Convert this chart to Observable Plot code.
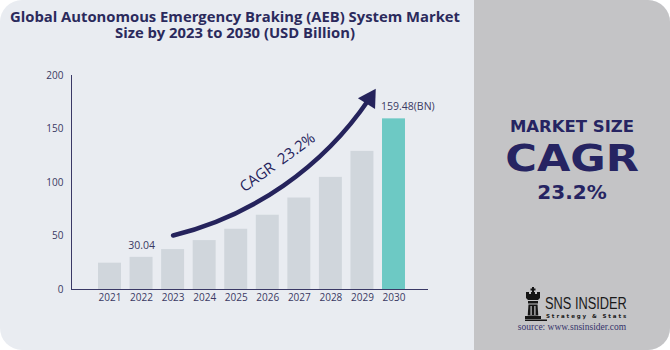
<!DOCTYPE html>
<html>
<head>
<meta charset="utf-8">
<script src="https://cdn.jsdelivr.net/npm/d3@7"></script>
<script src="https://cdn.jsdelivr.net/npm/@observablehq/plot@0.6"></script>
<style>
  html, body { margin: 0; padding: 0; background: #ffffff; }
  #wrap { position: relative; width: 670px; height: 350px; overflow: hidden; }
  #panel { position: absolute; left: 0; top: 0; width: 670px; height: 350px; border-radius: 22px; background: #e9ecf1; overflow: hidden; }
  #right { position: absolute; left: 474px; top: 0; width: 196px; height: 350px; background: #c4c4c6; }
  .tl { position: absolute; left: 0; width: 470px; text-align: center; font-family: "Open Sans", sans-serif; font-weight: 700; font-size: 14.8px; line-height: 15px; color: #2b2a5c; white-space: nowrap; }
  #t1 { top: 9px; }
  #t2 { top: 25px; }
  #chart { position: absolute; left: 0; top: 60px; }
  .rt { position: absolute; left: 474px; width: 196px; text-align: center; color: #262462; font-family: "DejaVu Sans", sans-serif; font-weight: 700; white-space: nowrap; }
  .rt span { display: inline-block; }
  #ms { top: 119px; font-size: 16.5px; line-height: 16px; }
  #cagr { top: 140px; font-size: 37.5px; line-height: 36px; }
  #cagr span { transform: scaleX(1.15); }
  #pct { top: 182px; font-size: 20px; line-height: 20px; }
  #logo { position: absolute; left: 520px; top: 284px; width: 130px; height: 40px; color: #1a1a1a; }
  #rook { position: absolute; left: 3px; top: 3px; }
  #sns { position: absolute; left: 25px; top: 11px; font-family: "Liberation Sans", sans-serif; font-size: 16px; line-height: 18px; transform: scaleX(0.8); transform-origin: 0 0; white-space: nowrap; }
  #ss { position: absolute; left: 26px; top: 29.4px; font-family: "DejaVu Sans", sans-serif; font-size: 5.5px; line-height: 6.4px; font-weight: 700; letter-spacing: 1.9px; white-space: nowrap; }
  #src { position: absolute; left: 474px; top: 322px; width: 196px; text-align: center; font-family: "Liberation Serif", serif; font-size: 9.5px; color: #34336a; }
</style>
</head>
<body>
<div id="wrap">
  <div id="panel"><div id="right"></div></div>
  <div class="tl" id="t1">Global Autonomous Emergency Braking (AEB) System Market</div>
  <div class="tl" id="t2">Size by 2023 to 2030 (USD Billion)</div>
  <div id="chart"></div>
  <div class="rt" id="ms"><span>MARKET SIZE</span></div>
  <div class="rt" id="cagr"><span>CAGR</span></div>
  <div class="rt" id="pct"><span>23.2%</span></div>
  <div id="logo">
    <svg id="rook" width="24" height="36" viewBox="0 0 24 36">
      <g fill="#151515">
        <rect x="9" y="0" width="2" height="5"/>
        <rect x="7.5" y="1.5" width="5" height="2"/>
        <path d="M3 5 h3 v2 h2 v-2 h4 v2 h2 v-2 h3 v6 l-2 2 h-10 l-2 -2z"/>
        <rect x="5" y="14" width="10" height="2.5"/>
        <path d="M5.5 17.5 h9 l0.8 11 h-10.6z"/>
        <rect x="2" y="29" width="16" height="3"/>
        <rect x="2" y="32.5" width="22" height="1.5"/>
      </g>
      <g fill="#c4c4c6">
        <rect x="7.5" y="19" width="1.2" height="9"/>
        <rect x="11.3" y="19" width="1.2" height="9"/>
      </g>
    </svg>
    <div id="sns">SNS INSIDER</div><div id="ss">Strategy &amp; Stats</div>
  </div>
  <div id="src">source: www.snsinsider.com</div>
</div>
<script>
// ---- data ----
const years = [2021, 2022, 2023, 2024, 2025, 2026, 2027, 2028, 2029, 2030];
const values = [24.6, 30.04, 37.3, 45.7, 56.3, 69.4, 85.5, 104.8, 129.1, 159.48];
const yTicks = [0, 50, 100, 150, 200];
const labelYears = [2022, 2030];
const labelTexts = ["30.04", "159.48(BN)"];
const arrowStart = [2023.0, 50.5];
const arrowEnd = [2029.41, 187];
const cagrText = "CAGR  23.2%";
const cagrAt = [2026.31, 118.7];

const navy = "#25235c";
const grey = "#d0d6dc";
const teal = "#6dc9c4";

const bars = years.map((y, i) => ({year: y, value: values[i]}));
const labels = labelYears.map((y, i) => ({year: y, value: values[years.indexOf(y)], text: labelTexts[i]}));

const chart = Plot.plot({
  width: 470,
  height: 250,
  marginLeft: 71,
  marginRight: 43,
  marginTop: 15,
  marginBottom: 21,
  style: {background: "transparent", color: "#3a3963", fontFamily: "Open Sans, sans-serif", fontSize: "10px", overflow: "visible"},
  x: {type: "linear", domain: [2021, 2030], range: [109.5, 393.5]},
  y: {domain: [0, 200]},
  marks: [
    Plot.rectY(bars, {x1: d => d.year - 0.364, x2: d => d.year + 0.364, y: "value", fill: d => d.year === 2030 ? teal : grey}),
    Plot.frame({anchor: "left", stroke: "#3a3966"}),
    Plot.frame({anchor: "bottom", stroke: "#3a3966"}),
    Plot.axisX({ticks: years, tickSize: 0, tickPadding: 4, tickFormat: d => String(d), label: null, fontSize: 10}),
    Plot.axisY({ticks: yTicks, tickSize: 0, tickPadding: 8, label: null, fontSize: 10}),
    Plot.text(labels.filter(d => d.year !== 2030), {x: "year", y: "value", text: "text", dy: -12, fontSize: 10.5, fill: "#3a3963"}),
    Plot.text(labels.filter(d => d.year === 2030), {x: "year", y: "value", text: "text", dy: -12, dx: -13, textAnchor: "start", fontSize: 10.5, fill: "#3a3963"}),
    Plot.arrow([{x1: arrowStart[0], y1: arrowStart[1], x2: arrowEnd[0], y2: arrowEnd[1]}], {x1: "x1", y1: "y1", x2: "x2", y2: "y2", bend: -22, stroke: navy, strokeWidth: 4.5, headLength: 0.01, insetEnd: 12}),
    Plot.dot([{x: arrowEnd[0], y: arrowEnd[1]}], {x: "x", y: "y", symbol: "triangle", r: 7.5, rotate: 32, dx: -5.8, dy: 9.3, fill: navy, stroke: "none"}),
    Plot.text([{x: cagrAt[0], y: cagrAt[1], t: cagrText}], {x: "x", y: "y", text: "t", rotate: -36, fontSize: 15, fontWeight: 500, fill: navy})
  ]
});
document.getElementById("chart").appendChild(chart);
</script>
</body>
</html>
